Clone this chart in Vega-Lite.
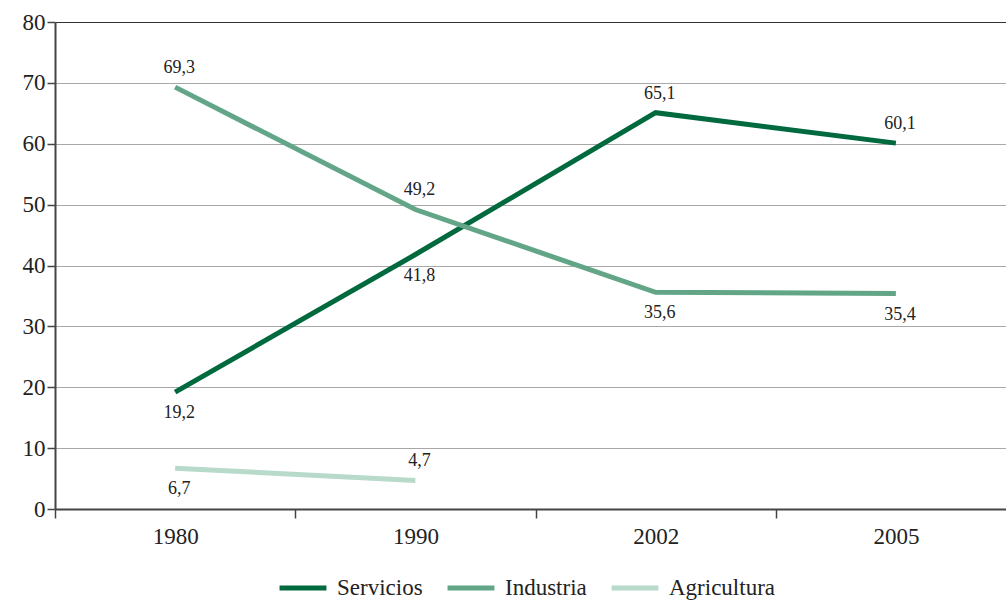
{
  "$schema": "https://vega.github.io/schema/vega-lite/v6.json",
  "autosize": "none",
  "width": 961,
  "height": 487,
  "padding": {"left": 55, "top": 22, "right": 0, "bottom": 91},
  "background": "white",
  "config": {
    "font": "'Times New Roman', 'Liberation Serif', 'DejaVu Serif', serif",
    "view": {"stroke": null},
    "axis": {"labelFont": "'Times New Roman', 'Liberation Serif', 'DejaVu Serif', serif"},
    "legend": {"labelFont": "'Times New Roman', 'Liberation Serif', 'DejaVu Serif', serif"},
    "text": {"font": "'Times New Roman', 'Liberation Serif', 'DejaVu Serif', serif"}
  },
  "data": {
    "values": [
      {"year": "1980", "series": "Servicios", "v": 19.2},
      {"year": "1990", "series": "Servicios", "v": 41.8},
      {"year": "2002", "series": "Servicios", "v": 65.1},
      {"year": "2005", "series": "Servicios", "v": 60.1},
      {"year": "1980", "series": "Industria", "v": 69.3},
      {"year": "1990", "series": "Industria", "v": 49.2},
      {"year": "2002", "series": "Industria", "v": 35.6},
      {"year": "2005", "series": "Industria", "v": 35.4},
      {"year": "1980", "series": "Agricultura", "v": 6.7},
      {"year": "1990", "series": "Agricultura", "v": 4.7}
    ]
  },
  "transform": [
    {"calculate": "replace(format(datum.v, '.1f'), '.', ',')", "as": "lbl"}
  ],
  "encoding": {
    "x": {
      "field": "year", "type": "ordinal",
      "sort": ["1980", "1990", "2002", "2005"],
      "scale": {"paddingInner": 0, "paddingOuter": 0},
      "axis": {
        "title": null, "labelAngle": 0, "tickBand": "extent",
        "labelFontSize": 23, "labelColor": "#222", "labelPadding": 7,
        "domainColor": "#444", "domainWidth": 2,
        "tickColor": "#444", "tickWidth": 1.5, "tickSize": 9,
        "grid": false
      }
    },
    "y": {
      "field": "v", "type": "quantitative",
      "scale": {"domain": [0, 80]},
      "axis": {
        "title": null, "values": [0, 10, 20, 30, 40, 50, 60, 70, 80],
        "labelFontSize": 23, "labelColor": "#222", "labelPadding": 2,
        "domainColor": "#444", "domainWidth": 2,
        "tickColor": "#444", "tickWidth": 1.5, "tickSize": 8,
        "grid": true, "gridWidth": 1.2,
        "gridColor": {"condition": {"test": "datum.value === 80", "value": "#333"}, "value": "#a8a8a8"}
      }
    }
  },
  "layer": [
    {
      "mark": {"type": "line", "strokeWidth": 5},
      "encoding": {
        "color": {
          "field": "series", "type": "nominal",
          "sort": ["Servicios", "Industria", "Agricultura"],
          "scale": {"domain": ["Servicios", "Industria", "Agricultura"], "range": ["#00693e", "#62a687", "#b8dacb"]},
          "legend": {
            "title": null, "orient": "none", "direction": "horizontal",
            "legendX": 222, "legendY": 540,
            "symbolType": "stroke", "symbolSize": 2200, "symbolStrokeWidth": 5,
            "labelFontSize": 23, "labelColor": "#222", "labelOffset": 8,
            "columnPadding": 14
          }
        }
      }
    },
    {
      "transform": [{"filter": "(datum.series == 'Industria' && (datum.year == '1980' || datum.year == '1990')) || (datum.series == 'Servicios' && (datum.year == '2002' || datum.year == '2005')) || (datum.series == 'Agricultura' && datum.year == '1990')"}],
      "mark": {"type": "text", "fontSize": 18, "color": "#222", "dy": -19, "dx": 4},
      "encoding": {"text": {"field": "lbl"}}
    },
    {
      "transform": [{"filter": "!((datum.series == 'Industria' && (datum.year == '1980' || datum.year == '1990')) || (datum.series == 'Servicios' && (datum.year == '2002' || datum.year == '2005')) || (datum.series == 'Agricultura' && datum.year == '1990'))"}],
      "mark": {"type": "text", "fontSize": 18, "color": "#222", "dy": 21, "dx": 4},
      "encoding": {"text": {"field": "lbl"}}
    }
  ]
}
